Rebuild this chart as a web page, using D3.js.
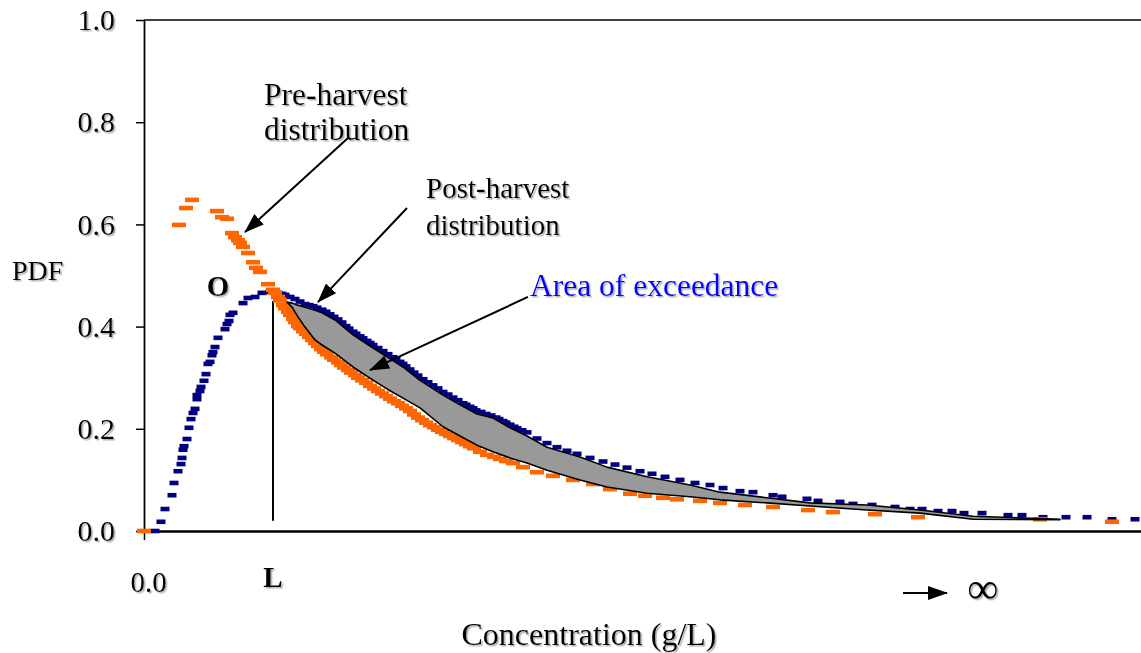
<!DOCTYPE html>
<html>
<head>
<meta charset="utf-8">
<script src="https://cdn.jsdelivr.net/npm/d3@7"></script>
<style>
  html, body { margin: 0; padding: 0; background: #ffffff; }
  svg { display: block; }
  text { font-family: "Liberation Serif", "Times New Roman", serif; fill: #000; }
</style>
</head>
<body>
<svg id="chart" width="1141" height="653"></svg>
<script>
// ---- data ----------------------------------------------------------------
// Post-harvest distribution (navy markers): concentration, PDF
const postConc = [0.11,0.17,0.21,0.28,0.30,0.34,0.37,0.38,0.39,0.40,0.43,0.45,0.47,0.49,0.51,0.53,0.53,0.56,0.57,0.60,
  0.62,0.64,0.66,0.68,0.69,0.71,0.74,0.81,0.83,0.85,0.86,0.89,0.99,1.04,1.11,1.18,1.26,1.30,1.34,1.38,
  1.41,1.46,1.51,1.56,1.61,1.65,1.69,1.73,1.78,1.82,1.86,1.90,1.94,1.98,2.02,2.05,2.09,2.12,2.16,2.19,
  2.23,2.26,2.29,2.34,2.39,2.44,2.49,2.52,2.56,2.59,2.62,2.66,2.70,2.74,2.79,2.84,2.89,2.94,2.99,3.04,
  3.09,3.14,3.19,3.22,3.26,3.29,3.32,3.37,3.42,3.47,3.52,3.55,3.59,3.62,3.66,3.70,3.73,3.78,3.83,3.93,
  4.03,4.13,4.23,4.33,4.46,4.59,4.71,4.83,4.96,5.08,5.21,5.36,5.51,5.66,5.79,5.96,6.09,6.29,6.38,6.63,
  6.74,6.96,7.09,7.28,7.51,7.66,7.78,7.94,8.08,8.20,8.38,8.64,8.78,8.99,9.22,9.43,9.68,9.91];
const postPdf = [0.000,0.018,0.043,0.070,0.094,0.117,0.131,0.143,0.159,0.166,0.180,0.202,0.219,0.231,0.239,0.258,0.266,0.274,0.282,0.294,
  0.307,0.327,0.331,0.344,0.350,0.360,0.378,0.395,0.405,0.411,0.423,0.427,0.446,0.456,0.458,0.466,0.468,0.467,0.466,0.464,
  0.462,0.458,0.454,0.449,0.444,0.442,0.440,0.437,0.433,0.429,0.424,0.419,0.414,0.408,0.401,0.396,0.390,0.386,0.381,0.377,
  0.372,0.368,0.364,0.358,0.352,0.346,0.340,0.336,0.331,0.327,0.322,0.316,0.310,0.304,0.297,0.291,0.285,0.279,0.272,0.267,
  0.261,0.256,0.250,0.247,0.243,0.240,0.236,0.233,0.229,0.226,0.222,0.219,0.215,0.212,0.208,0.204,0.201,0.197,0.193,0.181,
  0.172,0.164,0.157,0.151,0.143,0.136,0.130,0.124,0.117,0.112,0.106,0.100,0.094,0.090,0.084,0.078,0.076,0.070,0.067,0.063,
  0.059,0.057,0.053,0.051,0.047,0.043,0.043,0.039,0.039,0.035,0.035,0.031,0.031,0.027,0.027,0.027,0.023,0.023];

// Pre-harvest distribution (orange markers): concentration, PDF
const preConc = [0.00,0.35,0.42,0.48,0.73,0.78,0.83,0.88,0.91,0.94,0.96,0.99,1.04,1.09,1.12,1.16,1.24,1.29,1.31,1.34,
  1.36,1.39,1.41,1.44,1.46,1.49,1.51,1.54,1.56,1.59,1.62,1.65,1.68,1.71,1.74,1.77,1.80,1.83,1.87,1.90,
  1.94,1.97,2.00,2.04,2.07,2.11,2.14,2.18,2.22,2.26,2.30,2.34,2.38,2.42,2.46,2.50,2.54,2.58,2.62,2.66,
  2.70,2.74,2.78,2.82,2.86,2.90,2.94,2.98,3.02,3.06,3.10,3.14,3.18,3.22,3.26,3.30,3.36,3.43,3.50,3.56,
  3.62,3.69,3.79,3.93,4.09,4.29,4.49,4.66,4.86,5.01,5.19,5.33,5.56,5.76,6.01,6.29,6.64,6.89,7.31,7.74,
  8.96,9.68];
const prePdf = [0.000,0.599,0.632,0.648,0.626,0.614,0.611,0.583,0.575,0.569,0.564,0.556,0.544,0.526,0.515,0.507,0.483,0.472,0.466,0.458,
  0.451,0.442,0.436,0.429,0.423,0.415,0.409,0.401,0.397,0.391,0.386,0.380,0.374,0.368,0.362,0.356,0.351,0.346,0.340,0.335,
  0.330,0.325,0.320,0.315,0.310,0.305,0.300,0.295,0.290,0.284,0.279,0.274,0.269,0.264,0.259,0.254,0.250,0.245,0.240,0.235,
  0.228,0.222,0.217,0.212,0.207,0.203,0.198,0.194,0.190,0.186,0.182,0.178,0.174,0.170,0.166,0.162,0.155,0.149,0.145,0.141,
  0.137,0.133,0.125,0.115,0.108,0.100,0.092,0.082,0.073,0.069,0.065,0.062,0.059,0.055,0.051,0.047,0.041,0.037,0.033,0.027,
  0.023,0.018];

// Area of exceedance: upper and lower bounds along concentration
const exceedConc  = [1.43,1.48,1.54,1.61,1.71,1.78,1.91,2.09,2.26,2.43,2.59,2.76,2.99,3.16,3.33,3.49,3.66,3.83,4.03,4.36,
  4.63,5.03,5.46,5.76,6.23,6.66,7.23,7.76,8.29,9.16];
const exceedUpper = [0.448,0.446,0.442,0.438,0.432,0.427,0.413,0.384,0.362,0.341,0.321,0.295,0.266,0.247,0.229,0.221,0.202,0.186,0.164,0.145,
  0.125,0.106,0.090,0.076,0.065,0.055,0.051,0.041,0.029,0.023];
const exceedLower = [0.448,0.438,0.419,0.399,0.374,0.364,0.348,0.321,0.299,0.278,0.260,0.241,0.204,0.186,0.168,0.155,0.143,0.133,0.119,0.100,
  0.086,0.074,0.067,0.061,0.055,0.049,0.041,0.035,0.023,0.022];

const yTicks = [0, 0.2, 0.4, 0.6, 0.8, 1.0];
const limitConc = 1.29;           // L, concentration limit
const limitTop = 0.45, limitBottom = 0.02;

// ---- layout --------------------------------------------------------------
const svg = d3.select("#chart");
const x = d3.scaleLinear().domain([0, 10]).range([144, 1144]);
const y = d3.scaleLinear().domain([0, 1]).range([531, 20]);

const defs = svg.append("defs");
const shadow = defs.append("filter").attr("id", "soft").attr("x", "-10%").attr("y", "-20%")
  .attr("width", "130%").attr("height", "150%");
shadow.append("feDropShadow").attr("dx", 1.5).attr("dy", 1.5).attr("stdDeviation", 0.7)
  .attr("flood-color", "#9a9a9a").attr("flood-opacity", 0.8);

defs.append("marker").attr("id", "head").attr("markerUnits", "userSpaceOnUse")
  .attr("viewBox", "0 0 20 14").attr("markerWidth", 20).attr("markerHeight", 14)
  .attr("refX", 19).attr("refY", 7).attr("orient", "auto")
  .append("path").attr("d", "M0,0 L20,7 L0,14 Z").attr("fill", "#000");

// frame: top border line
svg.append("line").attr("x1", x(0)).attr("x2", x(10)).attr("y1", y(1)).attr("y2", y(1))
  .attr("stroke", "#000").attr("stroke-width", 1.5);

// y axis
const yAxis = d3.axisLeft(y).tickValues(yTicks).tickFormat(d3.format(".1f"))
  .tickSize(8).tickSizeOuter(0).tickPadding(21);
const gy = svg.append("g").attr("transform", `translate(${x(0)},0)`).call(yAxis);
gy.select(".domain").attr("stroke", "#000").attr("stroke-width", 1.8);
gy.selectAll(".tick line").attr("stroke", "#000").attr("stroke-width", 1.5);
gy.selectAll(".tick text").attr("font-size", 30).attr("font-family", "Liberation Serif")
  .attr("fill", "#000").attr("filter", "url(#soft)");

// x axis: baseline with a single tick at zero
const xAxis = d3.axisBottom(x).tickValues([0]).tickFormat(() => "0.0")
  .tickSize(9).tickSizeOuter(0).tickPadding(31);
const gx = svg.append("g").attr("transform", `translate(0,${y(0)})`).call(xAxis);
gx.select(".domain").attr("stroke", "#000").attr("stroke-width", 2.6);
gx.selectAll(".tick line").attr("stroke", "#000").attr("stroke-width", 1.5);
gx.selectAll(".tick text").attr("font-size", 29).attr("font-family", "Liberation Serif")
  .attr("fill", "#000").attr("dx", 4).attr("filter", "url(#soft)");

// vertical line at the limit L
svg.append("line").attr("x1", x(limitConc)).attr("x2", x(limitConc))
  .attr("y1", y(limitTop)).attr("y2", y(limitBottom))
  .attr("stroke", "#000").attr("stroke-width", 2);

// markers
const post = postConc.map((c, i) => ({ c, p: postPdf[i] }));
const pre = preConc.map((c, i) => ({ c, p: prePdf[i] }));

svg.append("g").selectAll("rect").data(post).join("rect")
  .attr("x", d => x(d.c) - 4.5).attr("y", d => y(d.p) - 2.3)
  .attr("width", 9).attr("height", 4.6).attr("fill", "#000080");

svg.append("g").selectAll("rect").data(pre).join("rect")
  .attr("x", d => x(d.c) - 7).attr("y", d => y(d.p) - 2.3)
  .attr("width", 14).attr("height", 4.6).attr("fill", "#ff6600");

// area of exceedance
const exceed = exceedConc.map((c, i) => ({ c, hi: exceedUpper[i], lo: exceedLower[i] }));
const area = d3.area().x(d => x(d.c)).y0(d => y(d.lo)).y1(d => y(d.hi));
svg.append("path").datum(exceed).attr("d", area)
  .attr("fill", "#999999").attr("stroke", "#000").attr("stroke-width", 1.6)
  .attr("stroke-linejoin", "round");

// annotation arrows (data coordinates)
const arrows = [
  { from: [2.04, 0.769], to: [1.01, 0.585] },
  { from: [2.63, 0.632], to: [1.74, 0.448] },
  { from: [3.84, 0.458], to: [2.26, 0.315] }
];
svg.append("g").selectAll("line").data(arrows).join("line")
  .attr("x1", d => x(d.from[0])).attr("y1", d => y(d.from[1]))
  .attr("x2", d => x(d.to[0])).attr("y2", d => y(d.to[1]))
  .attr("stroke", "#000").attr("stroke-width", 2).attr("marker-end", "url(#head)");

// text labels
const labels = svg.append("g").attr("filter", "url(#soft)");
function label(t, px, py, opts = {}) {
  return labels.append("text").attr("x", px).attr("y", py)
    .attr("font-size", opts.size || 29)
    .attr("font-weight", opts.bold ? "bold" : "normal")
    .attr("text-anchor", opts.anchor || "start")
    .style("fill", opts.color || "#000")
    .text(t);
}
label("Pre-harvest", 264, 105, { size: 31.5 });
label("distribution", 264, 140, { size: 31.5 });
label("Post-harvest", 426, 198);
label("distribution", 426, 235);
label("Area of exceedance", 530, 296, { color: "#0000ff", size: 31.5 });
label("PDF", 12, 280, { size: 28 });
label("O", 218, 296, { bold: true, anchor: "middle" });
label("L", x(limitConc), 587, { bold: true, anchor: "middle" });
label("Concentration (g/L)", 589, 645, { anchor: "middle", size: 32 });
label("\u221e", 983, 603, { anchor: "middle", size: 44 });

// arrow toward infinity
svg.append("line").attr("x1", 903).attr("x2", 947).attr("y1", 593).attr("y2", 593)
  .attr("stroke", "#000").attr("stroke-width", 2).attr("marker-end", "url(#head)");
</script>
</body>
</html>
